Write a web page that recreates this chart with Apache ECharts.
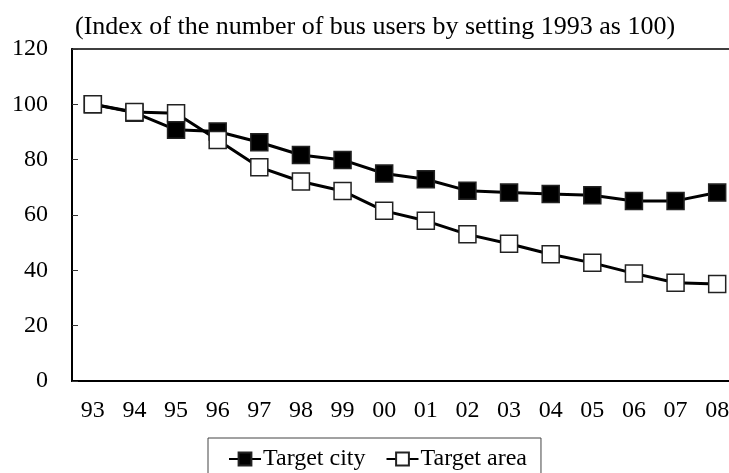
<!DOCTYPE html>
<html>
<head>
<meta charset="utf-8">
<script src="https://cdn.jsdelivr.net/npm/echarts@6/dist/echarts.min.js"></script>
<style>
html,body{margin:0;padding:0;background:#fff;}
#chart{width:729px;height:473px;}
</style>
</head>
<body>
<div id="chart"></div>
<script>
var categories = ['93','94','95','96','97','98','99','00','01','02','03','04','05','06','07','08'];
var targetCity = [100, 97, 90.8, 90.2, 86.3, 81.7, 79.9, 75, 72.9, 68.8, 68.1, 67.6, 67.1, 65.1, 65.1, 68.1];
var targetArea = [100, 97.2, 96.8, 87.1, 77.3, 72.1, 68.7, 61.5, 57.9, 53, 49.6, 45.8, 42.7, 38.9, 35.5, 35.1];
var yTicks = {min: 0, max: 120, interval: 20};
var titleText = '(Index of the number of bus users by setting 1993 as 100)';
var seriesNames = ['Target city', 'Target area'];

var FONT = '"Liberation Serif", "Times New Roman", serif';
var chart = echarts.init(document.getElementById('chart'), null, {renderer: 'canvas'});
chart.setOption({
  animation: false,
  backgroundColor: '#fff',
  title: {
    text: titleText,
    left: 70, top: 9,
    textStyle: {fontFamily: FONT, fontSize: 26, fontWeight: 'normal', color: '#000'}
  },
  legend: {
    data: seriesNames,
    left: 208, top: 438,
    orient: 'horizontal',
    padding: [9, 14, 20, 20],
    itemWidth: 32, itemHeight: 16, itemGap: 20,
    borderColor: '#444', borderWidth: 1,
    textStyle: {fontFamily: FONT, fontSize: 24, color: '#000', padding: [0, 0, 0, -3]}
  },
  grid: {
    left: 72, top: 49, width: 666, height: 332,
    outerBoundsMode: 'none',
    containLabel: false,
    show: true, borderColor: '#000', borderWidth: 1.5, backgroundColor: 'transparent'
  },
  xAxis: {
    type: 'category',
    data: categories,
    boundaryGap: true,
    axisLine: {lineStyle: {color: '#000', width: 2}},
    axisTick: {inside: true, length: 7, lineStyle: {color: '#333', width: 1}},
    axisLabel: {fontFamily: FONT, fontSize: 24, color: '#000', margin: 18, interval: 0}
  },
  yAxis: {
    type: 'value',
    min: yTicks.min, max: yTicks.max, interval: yTicks.interval,
    axisLine: {show: true, lineStyle: {color: '#000', width: 2}},
    axisTick: {show: true, inside: true, length: 6, lineStyle: {color: '#333', width: 1}},
    splitLine: {show: false},
    axisLabel: {fontFamily: FONT, fontSize: 24, color: '#000', margin: 24}
  },
  series: [
    {
      name: seriesNames[0], type: 'line', data: targetCity,
      symbol: 'rect', symbolSize: 17,
      lineStyle: {color: '#000', width: 3},
      itemStyle: {color: '#000', borderColor: '#222', borderWidth: 1.5}
    },
    {
      name: seriesNames[1], type: 'line', data: targetArea,
      symbol: 'rect', symbolSize: 17,
      lineStyle: {color: '#000', width: 3},
      itemStyle: {color: '#fff', borderColor: '#222', borderWidth: 1.5}
    }
  ]
});
</script>
</body>
</html>
